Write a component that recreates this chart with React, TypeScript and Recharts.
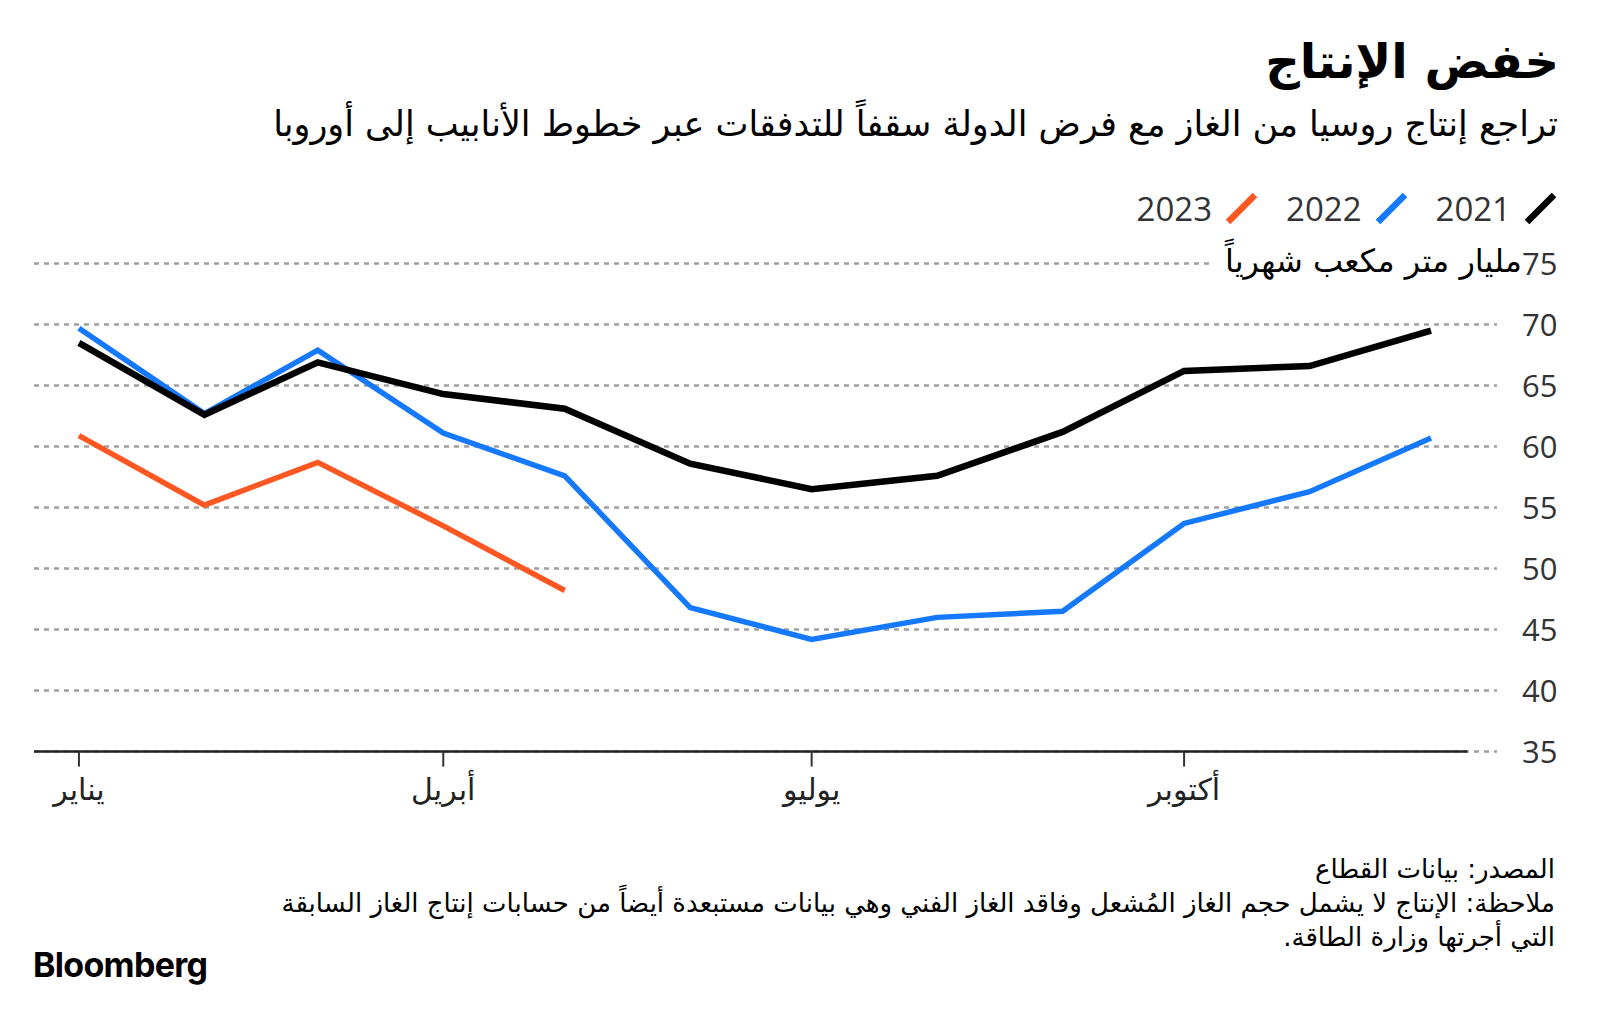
import React from 'react';
import { LineChart, Line, XAxis, YAxis, CartesianGrid, ReferenceLine } from 'recharts';

// Day-of-year of the first day of each month
const monthDays = [0, 31, 59, 90, 120, 151, 181, 212, 243, 273, 304, 334];
const series2021 = [68.5, 62.6, 66.9, 64.3, 63.1, 58.6, 56.5, 57.6, 61.2, 66.2, 66.6, 69.5];
const series2022 = [69.7, 62.7, 67.9, 61.1, 57.6, 46.8, 44.2, 46.0, 46.5, 53.7, 56.3, 60.7];
const series2023 = [60.9, 55.2, 58.7, 53.5, 48.2];
const xTickDays = [0, 90, 181, 273];
const xTickLabels = ['يناير', 'أبريل', 'يوليو', 'أكتوبر'];
const yTicks = [35, 40, 45, 50, 55, 60, 65, 70, 75];
const seriesNames = ['2021', '2022', '2023'];
const seriesColors = ['#000000', '#1479ff', '#ff5722'];

const title = 'خفض الإنتاج';
const subtitle = 'تراجع إنتاج روسيا من الغاز مع فرض الدولة سقفاً للتدفقات عبر خطوط الأنابيب إلى أوروبا';
const unitLabel = 'مليار متر مكعب شهرياً';
const sourceText = 'المصدر: بيانات القطاع';
const noteLines = [
  'ملاحظة: الإنتاج لا يشمل حجم الغاز المُشعل وفاقد الغاز الفني وهي بيانات مستبعدة أيضاً من حسابات إنتاج الغاز السابقة',
  'التي أجرتها وزارة الطاقة.',
];

const data = monthDays.map((d, i) => ({
  day: d,
  y2021: series2021[i],
  y2022: series2022[i],
  y2023: i < series2023.length ? series2023[i] : null,
}));

const AR = '"DejaVu Sans", sans-serif';
const NUM = '"Open Sans", "Noto Sans", sans-serif';

const XTick = (props: any) => {
  const { x, y, payload } = props;
  const idx = xTickDays.indexOf(payload.value);
  return (
    <text x={x} y={y + 31} textAnchor="middle" fontFamily={AR} fontSize={30} fill="#222">
      {idx >= 0 ? xTickLabels[idx] : ''}
    </text>
  );
};

const YTick = (props: any) => {
  const { x, y, payload } = props;
  return (
    <text x={x} y={y + 11} textAnchor="start" fontFamily={NUM} fontSize={31} fill="#333">
      {payload.value}
    </text>
  );
};

export default function App() {
  return (
    <div style={{ position: 'relative', width: 1600, height: 1021, background: '#fff', overflow: 'hidden' }}>
      <style>{'body{margin:0;background:#fff}'}</style>
      <div style={{ position: 'absolute', right: 41, top: 33, fontFamily: AR, fontWeight: 700, fontSize: 48, color: '#000', direction: 'rtl', whiteSpace: 'nowrap' }}>
        {title}
      </div>
      <div style={{ position: 'absolute', right: 42, top: 104, fontFamily: AR, fontSize: 35, color: '#000', direction: 'rtl', whiteSpace: 'nowrap' }}>
        {subtitle}
      </div>

      {/* legend */}
      <div style={{ position: 'absolute', right: 43, top: 186, display: 'flex', flexDirection: 'row', direction: 'rtl', alignItems: 'center' }}>
        {seriesNames.map((n, i) => (
          <div key={n} style={{ display: 'flex', alignItems: 'center', marginLeft: 28 }}>
            <svg width={33} height={33} style={{ marginLeft: 13 }}>
              <line x1={3} y1={30} x2={30} y2={3} stroke={seriesColors[i]} strokeWidth={6.5} />
            </svg>
            <span style={{ fontFamily: NUM, fontSize: 33, color: '#333', direction: 'ltr' }}>{n}</span>
          </div>
        ))}
      </div>

      <div style={{ position: 'absolute', left: 0, top: 0 }}>
        <LineChart width={1600} height={1021} data={data} margin={{ top: 263.5, right: 33, bottom: 209.4, left: 34 }}>
          <CartesianGrid vertical={false} stroke="#a0a0a0" strokeWidth={2.5} strokeDasharray="5 5" />
          <XAxis
            dataKey="day"
            type="number"
            domain={[-11.1, 350.3]}
            ticks={xTickDays}
            axisLine={false}
            tickLine={{ stroke: '#333', strokeWidth: 2 }}
            tickSize={15}
            height={60}
            tick={<XTick />}
            interval={0}
          />
          <YAxis
            orientation="right"
            domain={[35, 75]}
            ticks={yTicks}
            width={70}
            axisLine={false}
            tickLine={false}
            tickSize={0}
            tickMargin={25}
            tick={<YTick />}
            interval={0}
          />
          <ReferenceLine
            segment={[{ x: -11.1, y: 35 }, { x: 343, y: 35 }]}
            stroke="#222"
            strokeWidth={2.5}
            ifOverflow="visible"
          />
          <Line dataKey="y2023" stroke={seriesColors[2]} strokeWidth={5.5} dot={false} isAnimationActive={false} strokeLinejoin="miter" />
          <Line dataKey="y2022" stroke={seriesColors[1]} strokeWidth={5.5} dot={false} isAnimationActive={false} strokeLinejoin="miter" />
          <Line dataKey="y2021" stroke={seriesColors[0]} strokeWidth={6.5} dot={false} isAnimationActive={false} strokeLinejoin="miter" />
        </LineChart>
      </div>

      <div style={{ position: 'absolute', right: 78, top: 241, fontFamily: AR, fontSize: 32, color: '#000', direction: 'rtl', whiteSpace: 'nowrap', background: '#fff', paddingLeft: 12, lineHeight: '40px' }}>
        {unitLabel}
      </div>

      <div style={{ position: 'absolute', right: 45, top: 852, fontFamily: AR, fontSize: 26, color: '#000', direction: 'rtl', textAlign: 'right', lineHeight: '34px', whiteSpace: 'nowrap' }}>
        <div>{sourceText}</div>
        {noteLines.map((l) => (
          <div key={l}>{l}</div>
        ))}
      </div>

      <div style={{ position: 'absolute', left: 33, top: 944, fontFamily: 'Inter, sans-serif', fontWeight: 700, fontSize: 34, color: '#000', letterSpacing: -0.7 }}>
        Bloomberg
      </div>
    </div>
  );
}
